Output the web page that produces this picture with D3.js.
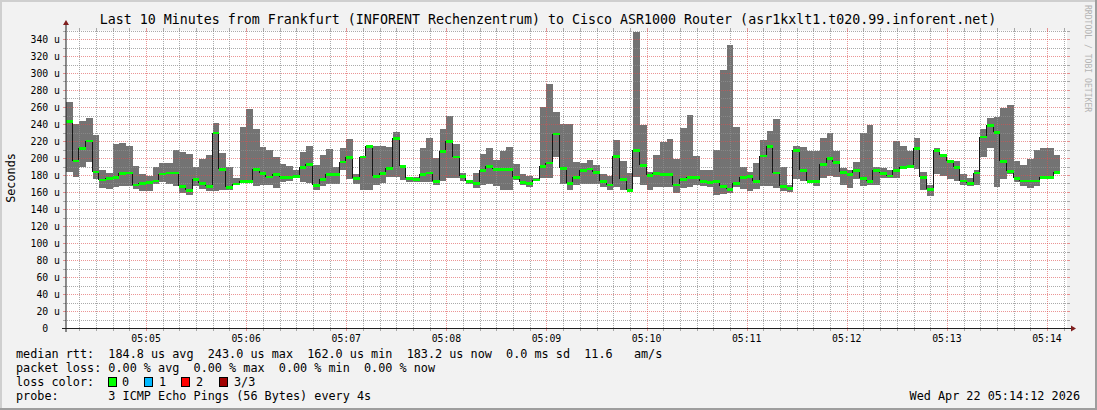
<!DOCTYPE html>
<html><head><meta charset="utf-8">
<script src="https://cdn.jsdelivr.net/npm/d3@7"></script>
<style>
body{margin:0;background:#f2f2f2;overflow:hidden}
text{font-family:"DejaVu Sans Mono",monospace;white-space:pre}
</style>
</head><body><svg id="c" width="1097" height="410"></svg>
<script>
const titleText = "Last 10 Minutes from Frankfurt (INFORENT Rechenzentrum) to Cisco ASR1000 Router (asr1kxlt1.t020.99.inforent.net)";
const yLabel = "Seconds";
const endTimeText = "Wed Apr 22 05:14:12 2026";
const startTime = Date.UTC(2026, 3, 22, 5, 4, 12);
const stepSeconds = 4;
const spanSeconds = 600;
const yTickValues = [0,20,40,60,80,100,120,140,160,180,200,220,240,260,280,300,320,340];
const xTickLabels = ["05:05","05:06","05:07","05:08","05:09","05:10","05:11","05:12","05:13","05:14"];
// per-sample ping values in microseconds
const maxVals = [265.4,240.0,243.9,247.4,227.5,186.0,182.0,216.9,217.7,214.2,191.1,180.6,179.4,189.9,194.6,194.6,209.9,207.5,205.2,189.9,
199.3,204.0,241.5,206.4,189.9,177.0,236.1,257.2,234.1,213.4,209.9,201.7,193.1,191.1,185.3,207.5,214.2,192.3,204.0,211.1,
189.9,212.2,222.8,181.3,202.5,214.6,214.6,213.8,213.4,231.0,191.9,178.2,177.4,212.2,223.9,199.7,234.5,249.7,216.9,182.9,
174.3,182.9,205.2,212.2,198.1,208.7,213.4,193.5,180.6,179.0,176.3,260.3,287.6,254.0,240.0,240.0,195.8,193.9,198.1,191.9,
181.3,179.4,221.6,197.0,182.5,348.2,239.2,183.7,204.0,219.3,222.8,198.5,235.7,250.9,202.8,186.0,185.3,209.9,303.7,333.0,
236.8,189.9,184.1,193.9,221.6,231.4,245.4,189.2,167.7,214.6,213.4,208.7,208.7,223.9,229.8,207.9,188.0,185.3,195.8,229.8,
239.2,189.2,188.8,185.3,220.4,214.6,208.7,223.9,184.1,168.8,212.2,204.0,197.0,197.0,180.6,176.3,186.0,233.7,247.4,248.6,
259.1,262.6,197.0,192.3,198.5,209.9,212.2,212.2,204.0];
const medVals = [243.0,197.0,211.4,220.4,184.1,174.7,176.3,177.4,182.1,182.9,168.8,170.4,171.2,173.5,181.7,182.9,182.9,166.9,162.0,175.1,
170.4,166.9,229.8,186.8,165.7,170.0,172.4,172.4,186.8,182.1,178.2,180.6,177.4,177.4,178.6,189.2,192.7,168.1,175.1,181.0,
181.0,195.8,200.9,176.3,201.7,213.8,178.6,182.1,188.0,223.2,190.3,176.3,175.1,180.6,182.9,172.7,207.9,220.0,201.7,178.6,
172.4,170.4,185.3,190.3,186.8,186.8,186.8,177.4,171.2,170.4,174.7,190.3,194.6,228.6,188.0,170.4,177.4,185.3,187.2,183.3,
172.7,168.8,202.1,175.1,162.0,209.1,191.5,179.8,182.1,181.0,181.0,168.8,175.1,177.4,177.4,172.7,171.6,172.7,166.5,163.4,
170.4,177.4,178.6,172.7,202.8,213.8,182.9,166.9,164.5,209.1,185.6,172.7,172.7,192.7,199.7,195.0,183.3,180.6,185.3,176.3,
172.7,185.3,182.1,179.4,185.3,189.2,190.3,211.4,177.4,163.4,209.1,203.2,196.2,189.2,173.5,170.4,182.9,225.1,238.4,230.2,
196.2,184.5,176.3,173.5,173.5,173.5,177.4,177.4,183.2];
const minVals = [183.3,177.4,189.9,195.0,175.5,164.2,163.4,165.7,166.9,166.9,163.8,161.0,161.0,169.6,171.6,169.6,167.3,158.7,156.0,167.3,
163.8,160.6,160.6,161.8,161.8,167.7,170.4,170.4,166.9,168.4,168.4,164.5,171.6,173.5,175.9,171.6,170.4,161.8,166.9,169.6,
169.6,185.3,175.5,169.6,161.8,162.6,168.8,170.4,177.4,177.4,174.3,171.6,171.6,171.2,171.2,167.7,173.5,176.3,176.3,172.4,
169.6,164.5,168.8,169.6,166.9,161.8,161.8,174.3,167.7,165.7,172.4,176.3,176.3,200.9,169.6,161.8,167.7,169.6,169.6,169.6,
165.7,162.6,165.7,162.6,161.0,178.0,167.7,161.8,165.7,165.7,165.7,158.7,164.5,165.7,168.4,166.5,165.7,156.3,157.1,158.7,
165.7,163.4,161.0,163.4,166.9,166.9,164.5,161.0,159.8,175.1,173.5,171.6,166.9,176.3,178.6,177.4,168.8,164.5,175.1,166.9,
167.7,168.8,176.3,176.3,176.3,187.2,189.2,186.8,161.8,155.2,180.6,178.6,175.1,172.7,167.7,166.9,167.7,200.9,211.4,165.7,
175.1,181.3,171.6,166.9,164.5,166.9,175.1,175.5,181.3];
const legendRows = [
  "median rtt:  184.8 us avg  243.0 us max  162.0 us min  183.2 us now  0.0 ms sd  11.6   am/s",
  "packet loss: 0.00 % avg  0.00 % max  0.00 % min  0.00 % now",
  "loss color:",
  "probe:       3 ICMP Echo Pings (56 Bytes) every 4s"
];
const lossLabels = ["0","1","2","3/3"];
const lossColors = ["#00ff00","#00b8ff","#ff0000","#a00000"];

const W = 1097, H = 410;
const svg = d3.select("#c");
const t0 = new Date(startTime), t1 = new Date(startTime + spanSeconds*1000);
const x = d3.scaleUtc().domain([t0, t1]).range([66, 1067]);
const y = d3.scaleLinear().domain([0, 350]).range([328, 30.5]);

// background + frame
svg.append("rect").attr("width", W).attr("height", H).attr("fill", "#f2f2f2");
svg.append("path").attr("d", `M0,1H${W} M1,0V${H}`).attr("stroke", "#cfcfcf").attr("stroke-width", 2);
svg.append("path").attr("d", `M0,${H-1}H${W} M${W-1},0V${H}`).attr("stroke", "#9e9e9e").attr("stroke-width", 2);
// canvas
svg.append("rect").attr("x", 66).attr("y", y(350)).attr("width", 1067-66).attr("height", 328 - y(350)).attr("fill", "#ffffff");

const data = medVals.map((m, i) => ({i, med: m, lo: minVals[i], hi: maxVals[i],
  t: new Date(startTime + i*stepSeconds*1000), t2: new Date(startTime + (i+1)*stepSeconds*1000)}));

// smoke
svg.append("g").attr("shape-rendering", "crispEdges").selectAll("rect").data(data).join("rect")
  .attr("x", d => x(d.t)).attr("width", d => x(d.t2) - x(d.t))
  .attr("y", d => y(d.hi)).attr("height", d => y(d.lo) - y(d.hi))
  .attr("fill", "#737373");

// grid
const gGrid = svg.append("g").attr("shape-rendering", "crispEdges");
const minorY = d3.range(10, 351, 10).filter(v => v % 20 !== 0);
const majorY = d3.range(20, 351, 20);
const minorT = d3.utcSecond.every(10).range(t0, t1).filter(d => d.getUTCSeconds() !== 0);
const majorT = d3.utcMinute.every(1).range(t0, t1);
const gridCol = "rgba(143,143,143,0.75)", mgridCol = "rgba(222,79,79,0.6)";
function hline(v, col) {
  const yy = Math.round(y(v)) + 0.5;
  gGrid.append("line").attr("x1", 67).attr("x2", 1067).attr("y1", yy).attr("y2", yy).attr("stroke", col).attr("stroke-dasharray", "1,1");
  gGrid.append("line").attr("x1", 63).attr("x2", 66).attr("y1", yy).attr("y2", yy).attr("stroke", col);
  gGrid.append("line").attr("x1", 1067).attr("x2", 1070).attr("y1", yy).attr("y2", yy).attr("stroke", col);
}
function vline(t, col) {
  const xx = Math.round(x(t)) + 0.5;
  gGrid.append("line").attr("y1", y(350)).attr("y2", 328).attr("x1", xx).attr("x2", xx).attr("stroke", col).attr("stroke-dasharray", "1,1");
  gGrid.append("line").attr("y1", 328).attr("y2", 331).attr("x1", xx).attr("x2", xx).attr("stroke", col);
  gGrid.append("line").attr("y1", y(350) - 3).attr("y2", y(350)).attr("x1", xx).attr("x2", xx).attr("stroke", col);
}
minorY.forEach(v => hline(v, gridCol));
majorY.forEach(v => hline(v, mgridCol));
minorT.forEach(t => vline(t, gridCol));
majorT.forEach(t => vline(t, mgridCol));

// median step line (black verticals) and loss-coloured horizontals
const gMed = svg.append("g").attr("shape-rendering", "crispEdges");
gMed.selectAll("line.v").data(data.slice(1)).join("line").attr("class", "v")
  .attr("x1", d => Math.round(x(d.t)) - 0.5).attr("x2", d => Math.round(x(d.t)) - 0.5)
  .attr("y1", d => y(medVals[d.i - 1])).attr("y2", d => y(d.med))
  .attr("stroke", "#151515").attr("stroke-width", 1);
gMed.selectAll("rect").data(data).join("rect")
  .attr("x", d => x(d.t)).attr("width", d => x(d.t2) - x(d.t))
  .attr("y", d => y(d.med) - 1).attr("height", 2.5)
  .attr("fill", lossColors[0]);

// axes
const axisCol = "#1f1f1f", arrowCol = "#801f1f";
svg.append("line").attr("x1", 62).attr("x2", 1072).attr("y1", 328.5).attr("y2", 328.5).attr("stroke", axisCol);
svg.append("line").attr("x1", 66).attr("x2", 66).attr("y1", 332).attr("y2", 25).attr("stroke", axisCol);
svg.append("path").attr("d", "M1071,325.5L1076,328.5L1071,331.5Z").attr("fill", arrowCol);
svg.append("path").attr("d", "M63,25L66,20L69,25Z").attr("fill", arrowCol);

// y labels
svg.append("g").selectAll("text").data(yTickValues).join("text")
  .attr("x", 60).attr("y", v => y(v) + 3.5).attr("text-anchor", "end")
  .attr("font-size", "9.8px").attr("fill", "#000")
  .text(v => v === 0 ? "0  " : v + " u");

// x labels
svg.append("g").selectAll("text").data(majorT).join("text")
  .attr("x", d => x(d)).attr("y", 342).attr("text-anchor", "middle")
  .attr("font-size", "9.8px").attr("fill", "#000")
  .text((d, i) => xTickLabels[i]);

// title
svg.append("text").attr("x", 548).attr("y", 23.5).attr("text-anchor", "middle")
  .attr("font-size", "13.3px").text(titleText);
// y axis title
svg.append("text").attr("transform", "translate(15,178) rotate(-90)").attr("text-anchor", "middle")
  .attr("font-size", "11.8px").text(yLabel);
// watermark
svg.append("text").attr("transform", "translate(1085,5) rotate(90)").attr("text-anchor", "start")
  .attr("font-size", "8.1px").attr("fill", "#b4b4b4").text("RRDTOOL / TOBI OETIKER");

// legend
const rowsY = [358, 372, 386, 400];
svg.append("g").selectAll("text").data(legendRows).join("text")
  .attr("x", 16).attr("y", (d, i) => rowsY[i]).attr("font-size", "11.8px").text(d => d);
const swX = [108.5, 144.5, 181.5, 219.5];
const lblX = [122, 159, 196, 234];
lossLabels.forEach((l, i) => {
  svg.append("rect").attr("x", swX[i]).attr("y", 377.5).attr("width", 8).attr("height", 9)
    .attr("fill", lossColors[i]).attr("stroke", "#000");
  svg.append("text").attr("x", lblX[i]).attr("y", 386).attr("font-size", "11.8px").text(l);
});
svg.append("text").attr("x", 1080).attr("y", 400).attr("text-anchor", "end").attr("font-size", "11.8px").text(endTimeText);
</script>
</body></html>
